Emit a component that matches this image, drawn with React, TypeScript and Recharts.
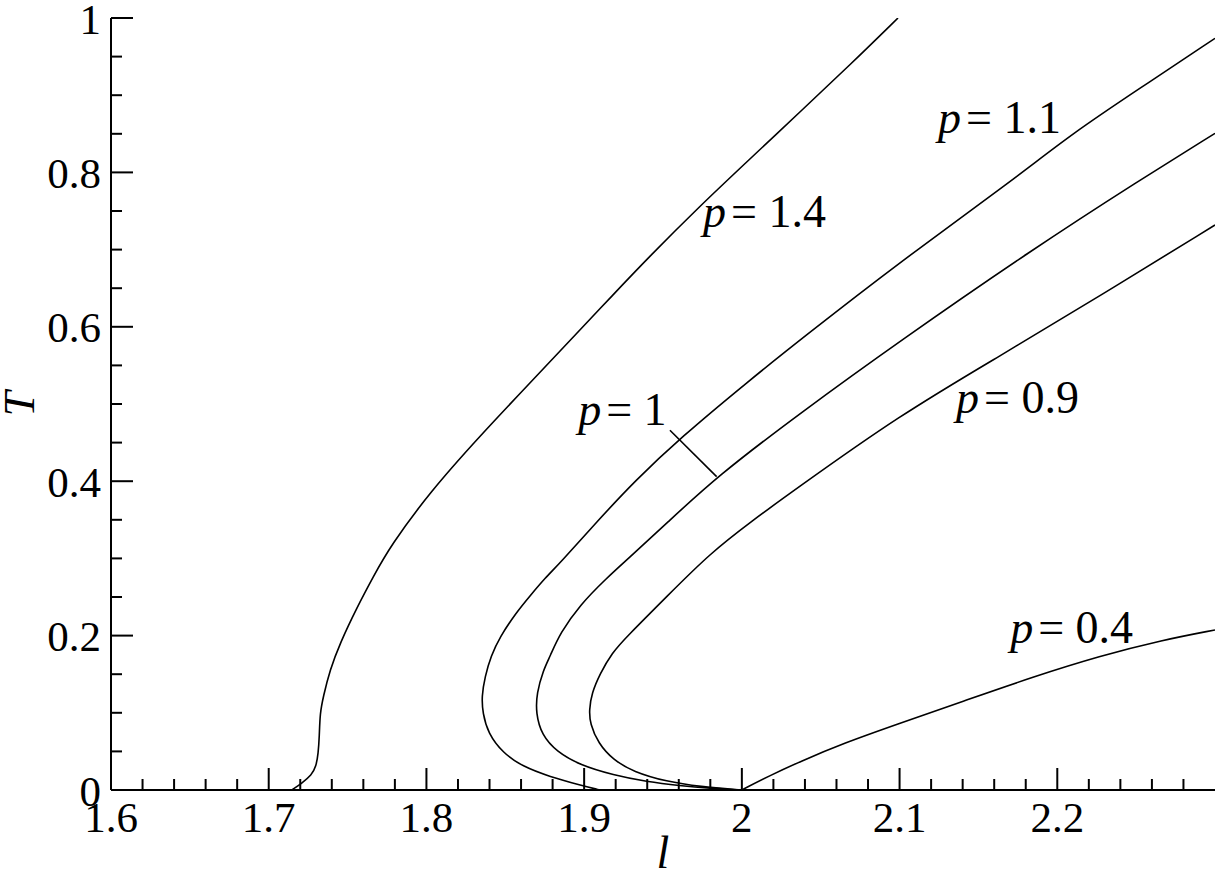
import React from 'react';
import { LineChart, Line, XAxis, YAxis, ReferenceDot, ReferenceLine } from 'recharts';

const FONT = '"Liberation Serif", "Times New Roman", Times, serif';

// p = 1.4
const p14L = [1.7146, 1.7209, 1.7272, 1.73, 1.7314, 1.7321, 1.7325, 1.7346, 1.7388, 1.7452, 1.7558, 1.7663, 1.7769, 1.8022, 1.8339, 1.8656, 1.8973, 1.9164, 1.9417, 1.9734, 2.0051, 2.0368, 2.0685, 2.099];
const p14T = [0, 0.0087, 0.0194, 0.0302, 0.0475, 0.069, 0.0994, 0.1209, 0.1554, 0.19, 0.2358, 0.2763, 0.3152, 0.386, 0.4585, 0.5272, 0.5959, 0.6373, 0.6917, 0.7565, 0.8174, 0.8782, 0.9391, 1.0];
// p = 1.1
const p11L = [1.91, 1.8973, 1.8783, 1.8612, 1.8485, 1.839, 1.8357, 1.835, 1.8371, 1.8409, 1.8466, 1.8572, 1.8656, 1.8752, 1.8847, 1.9079, 1.9322, 1.9607, 2.0051, 2.0368, 2.1002, 2.1719, 2.2099, 2.2524, 2.3];
const p11T = [0, 0.0065, 0.0172, 0.0302, 0.0479, 0.0738, 0.0997, 0.1209, 0.1468, 0.1736, 0.1986, 0.2306, 0.2513, 0.2746, 0.294, 0.3472, 0.4003, 0.4556, 0.5311, 0.5829, 0.6839, 0.7902, 0.851, 0.9089, 0.9737];
// p = 1
const p10L = [2.0, 1.9798, 1.9607, 1.9396, 1.9185, 1.8973, 1.8826, 1.8731, 1.8694, 1.8699, 1.8741, 1.8783, 1.8847, 1.8973, 1.9143, 1.927, 1.9523, 1.984, 2.0368, 2.1002, 2.1837, 2.2524, 2.3];
const p10T = [0, 0.0022, 0.0056, 0.0108, 0.0194, 0.0324, 0.0496, 0.0712, 0.0994, 0.1253, 0.1554, 0.1727, 0.203, 0.2396, 0.2746, 0.2979, 0.3455, 0.4058, 0.488, 0.5816, 0.6995, 0.7902, 0.8506];
// p = 0.9
const p09L = [2.0, 1.9734, 1.9523, 1.9311, 1.9185, 1.9089, 1.9037, 1.9032, 1.9048, 1.91, 1.9176, 1.927, 1.9523, 1.9798, 2.0072, 2.0305, 2.1002, 2.1636, 2.227, 2.3];
const p09T = [0, 0.0043, 0.0108, 0.0237, 0.0389, 0.0605, 0.0864, 0.1036, 0.1253, 0.1503, 0.1775, 0.1986, 0.2504, 0.3066, 0.3497, 0.3843, 0.4858, 0.5622, 0.6399, 0.7319];
// p = 0.4
const p04L = [2.0, 2.0178, 2.0368, 2.0643, 2.1002, 2.1425, 2.1845, 2.227, 2.2669, 2.3];
const p04T = [0, 0.0188, 0.0367, 0.0605, 0.0864, 0.1166, 0.1464, 0.1736, 0.1943, 0.2073];

const xMajorTicks = [1.6, 1.7, 1.8, 1.9, 2, 2.1, 2.2];
const xTickLabels = ['1.6', '1.7', '1.8', '1.9', '2', '2.1', '2.2'];
const xMinorTicks = [1.62, 1.64, 1.66, 1.68, 1.72, 1.74, 1.76, 1.78, 1.82, 1.84, 1.86, 1.88, 1.92, 1.94, 1.96, 1.98, 2.02, 2.04, 2.06, 2.08, 2.12, 2.14, 2.16, 2.18, 2.22, 2.24, 2.26, 2.28];
const yMajorTicks = [0, 0.2, 0.4, 0.6, 0.8, 1];
const yTickLabels = ['0', '0.2', '0.4', '0.6', '0.8', '1'];
const yMinorTicks = [0.05, 0.1, 0.15, 0.25, 0.3, 0.35, 0.45, 0.5, 0.55, 0.65, 0.7, 0.75, 0.85, 0.9, 0.95];

const curveNames = ['1.4', '1.1', '1', '0.9', '0.4'];
const labelL = [1.9754, 2.1244, 1.8962, 2.1358, 2.1701];
const labelT = [0.729, 0.851, 0.473, 0.488, 0.19];
const pointerL = [1.9544, 1.984];
const pointerT = [0.466, 0.406];

const zip = (ls: number[], ts: number[]) => ls.map((l, i) => ({ l, T: ts[i] }));
const curves = [zip(p14L, p14T), zip(p11L, p11T), zip(p10L, p10T), zip(p09L, p09T), zip(p04L, p04T)];

const X_DOMAIN: [number, number] = [1.6, 2.3];
const Y_DOMAIN: [number, number] = [0, 1];
const xAllTicks = [...xMajorTicks, ...xMinorTicks];
const yAllTicks = [...yMajorTicks, ...yMinorTicks];
const MAJOR = 22;
const MINOR = 11;
const idxOf = (arr: number[], v: number) => arr.findIndex((m) => Math.abs(m - v) < 1e-9);

const BottomTick = (props: any) => {
  const { x, y, payload } = props;
  const i = idxOf(xMajorTicks, payload.value);
  const len = i >= 0 ? MAJOR : MINOR;
  return (
    <g>
      <line x1={x} y1={y} x2={x} y2={y - len} stroke="#000" strokeWidth={2} />
      {i >= 0 && (
        <text x={x} y={y + 42} textAnchor="middle" style={{ fontFamily: FONT }} fontSize={43} fill="#000">
          {xTickLabels[i]}
        </text>
      )}
    </g>
  );
};

const TopTick = (props: any) => {
  const { x, y, payload } = props;
  const len = idxOf(xMajorTicks, payload.value) >= 0 ? MAJOR : MINOR;
  return <line x1={x} y1={y} x2={x} y2={y + len} stroke="#000" strokeWidth={2} />;
};

const LeftTick = (props: any) => {
  const { x, y, payload } = props;
  const i = idxOf(yMajorTicks, payload.value);
  const len = i >= 0 ? MAJOR : MINOR;
  return (
    <g>
      <line x1={x} y1={y} x2={x + len} y2={y} stroke="#000" strokeWidth={2} />
      {i >= 0 && (
        <text x={x - 10} y={y + 15.5} textAnchor="end" style={{ fontFamily: FONT }} fontSize={43} fill="#000">
          {yTickLabels[i]}
        </text>
      )}
    </g>
  );
};

const RightTick = (props: any) => {
  const { x, y, payload } = props;
  const len = idxOf(yMajorTicks, payload.value) >= 0 ? MAJOR : MINOR;
  return <line x1={x} y1={y} x2={x - len} y2={y} stroke="#000" strokeWidth={2} />;
};

const XTitle = (props: any) => {
  const vb = props.viewBox || { x: 111, y: 790, width: 1104, height: 90 };
  return (
    <text x={vb.x + vb.width / 2} y={vb.y + 78} textAnchor="middle" style={{ fontFamily: FONT }} fontStyle="italic" fontSize={46} fill="#000">
      l
    </text>
  );
};

const YTitle = (props: any) => {
  const vb = props.viewBox || { x: 0, y: 18, width: 111, height: 772 };
  const cx = vb.x + 19;
  const cy = vb.y + vb.height / 2;
  return (
    <text x={cx} y={cy} transform={`rotate(-90, ${cx}, ${cy})`} textAnchor="middle" dominantBaseline="central" style={{ fontFamily: FONT }} fontStyle="italic" fontSize={45} fill="#000">
      T
    </text>
  );
};

const makeAnn = (txt: string) => (props: any) => {
  const vb = props.viewBox || { x: 0, y: 0 };
  return (
    <text x={vb.x} y={vb.y} style={{ fontFamily: FONT }} fontSize={46} fill="#000">
      <tspan fontStyle="italic">p</tspan>
      <tspan dx={5}>{`= ${txt}`}</tspan>
    </text>
  );
};

export default function App() {
  return (
    <div style={{ position: 'fixed', left: 0, top: 0, width: 1219, height: 880, background: '#fff' }}>
      <LineChart width={1219} height={880} margin={{ top: 18, right: 4, bottom: 0, left: 0 }}>
        <XAxis
          xAxisId={0}
          dataKey="l"
          type="number"
          domain={X_DOMAIN}
          allowDataOverflow
          ticks={xAllTicks}
          interval={0}
          tick={BottomTick}
          tickLine={false}
          tickSize={0}
          tickMargin={0}
          height={90}
          axisLine={{ stroke: '#000', strokeWidth: 2 }}
          label={{ content: XTitle }}
        />
        <XAxis
          xAxisId="top"
          orientation="top"
          mirror
          type="number"
          domain={X_DOMAIN}
          allowDataOverflow
          ticks={xAllTicks}
          interval={0}
          tick={TopTick}
          tickLine={false}
          tickSize={0}
          tickMargin={0}
          height={0}
          axisLine={{ stroke: '#000', strokeWidth: 2 }}
        />
        <YAxis
          yAxisId={0}
          type="number"
          domain={Y_DOMAIN}
          allowDataOverflow
          ticks={yAllTicks}
          interval={0}
          tick={LeftTick}
          tickLine={false}
          tickSize={0}
          tickMargin={0}
          width={111}
          axisLine={{ stroke: '#000', strokeWidth: 2 }}
          label={{ content: YTitle }}
        />
        <YAxis
          yAxisId="right"
          orientation="right"
          mirror
          type="number"
          domain={Y_DOMAIN}
          allowDataOverflow
          ticks={yAllTicks}
          interval={0}
          tick={RightTick}
          tickLine={false}
          tickSize={0}
          tickMargin={0}
          width={0}
          axisLine={{ stroke: '#000', strokeWidth: 2 }}
        />
        {curves.map((data, i) => (
          <Line
            key={curveNames[i]}
            data={data}
            dataKey="T"
            xAxisId={0}
            yAxisId={0}
            type="basis"
            stroke="#000"
            strokeWidth={1.6}
            dot={false}
            activeDot={false}
            isAnimationActive={false}
          />
        ))}
        <ReferenceLine
          xAxisId={0}
          yAxisId={0}
          segment={[
            { x: pointerL[0], y: pointerT[0] },
            { x: pointerL[1], y: pointerT[1] },
          ]}
          stroke="#000"
          strokeWidth={1.6}
          ifOverflow="visible"
        />
        {curveNames.map((name, i) => (
          <ReferenceDot
            key={`lab-${name}`}
            xAxisId={0}
            yAxisId={0}
            x={labelL[i]}
            y={labelT[i]}
            r={0}
            fill="none"
            stroke="none"
            ifOverflow="visible"
            label={{ content: makeAnn(name) }}
          />
        ))}
      </LineChart>
    </div>
  );
}
